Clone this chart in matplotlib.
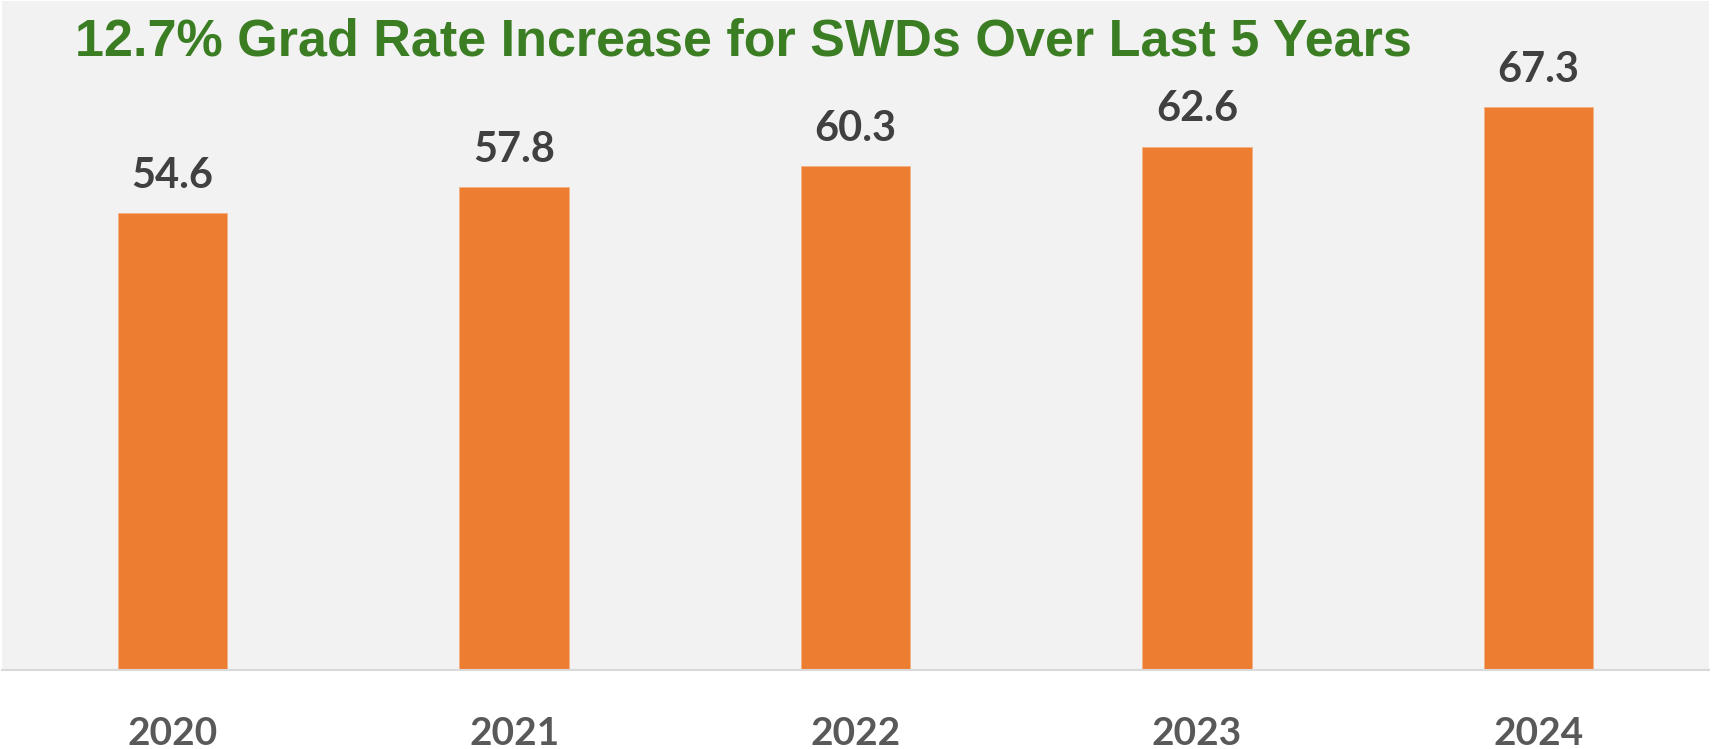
import matplotlib.pyplot as plt

years = ['2020', '2021', '2022', '2023', '2024']
grad_rates = [54.6, 57.8, 60.3, 62.6, 67.3]
title_text = '12.7% Grad Rate Increase for SWDs Over Last 5 Years'


def main():
  fig = plt.figure(figsize=(17.32, 7.49), dpi=100)
  ax = fig.add_axes([2 / 1732, 1 - 670 / 749, 1707 / 1732, 669 / 749])
  ax.set_facecolor('#f2f2f2')

  x = range(len(years))
  ax.bar(x, grad_rates, width=0.32, color='#ed7d31', edgecolor='#f4b183', linewidth=0.6)

  # value labels above each bar
  for i, v in zip(x, grad_rates):
    ax.annotate(f'{v:.1f}', (i, v), xytext=(0, 13), textcoords='offset points',
                ha='center', va='bottom', fontsize=30, fontweight='bold',
                color='#404040', family='Lato')

  ax.set_xlim(-0.5, 4.5)
  ax.set_ylim(0, 80)
  ax.set_yticks([])
  ax.set_xticks(list(x))
  ax.set_xticklabels(years, fontsize=28, fontweight='bold', color='#595959', family='Lato')
  ax.tick_params(axis='x', length=0, pad=33)
  for side in ['top', 'left', 'right']:
    ax.spines[side].set_visible(False)
  ax.spines['bottom'].set_color('#d9d9d9')
  ax.spines['bottom'].set_linewidth(1.5)

  fig.text(75 / 1732, 1 - 55 / 749, title_text, ha='left', va='baseline',
           fontsize=37.5, fontweight='bold', color='#3b7d23',
           family=['Liberation Sans', 'DejaVu Sans'])

  plt.savefig('out.png', dpi=100)
  plt.close()


if __name__ == '__main__':
  main()
